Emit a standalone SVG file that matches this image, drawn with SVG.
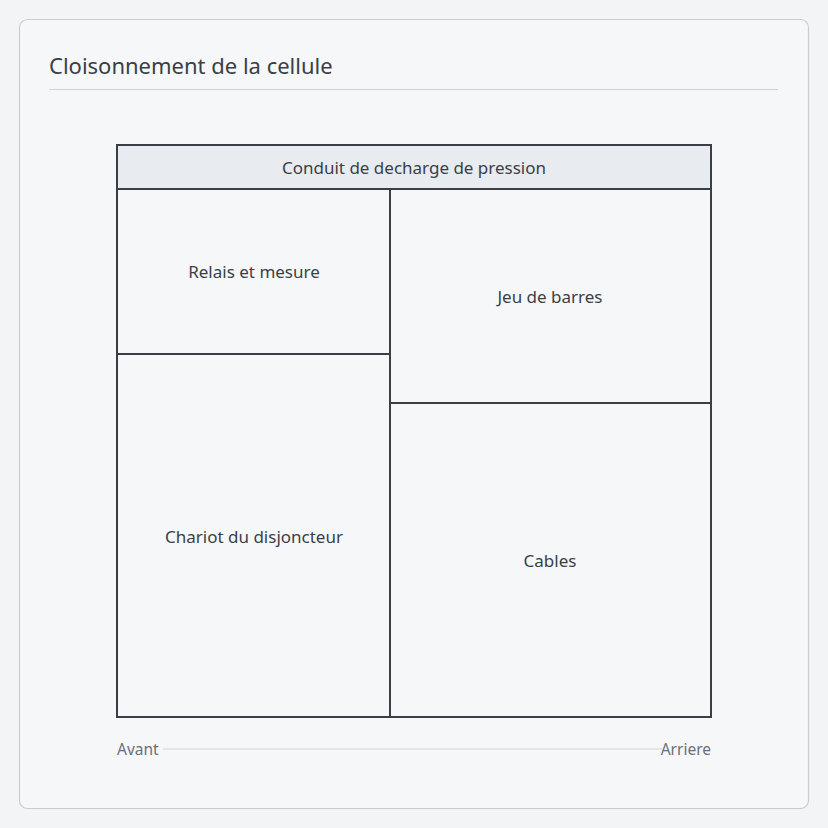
<svg xmlns="http://www.w3.org/2000/svg" width="828" height="828" viewBox="0 0 828 828">
<style>
.t{font-family:"Noto Sans","Open Sans","Liberation Sans",sans-serif;fill:#3a3f47;font-size:17px;text-anchor:middle;dominant-baseline:central}
.ax{font-family:"Noto Sans","Open Sans","Liberation Sans",sans-serif;fill:#6b7078;font-size:15.5px;dominant-baseline:central}
.box{fill:none;stroke:#3a3f47;stroke-width:2}
</style>
<rect x="0" y="0" width="828" height="828" fill="#f3f4f6"/>
<rect x="19.5" y="19.5" width="789" height="789" rx="8" fill="#f6f7f9" stroke="#c9cdd3" stroke-width="1.2"/>
<text x="49" y="65" font-family="Noto Sans,Open Sans,Liberation Sans,sans-serif" font-size="22" fill="#3a3f47" dominant-baseline="central">Cloisonnement de la cellule</text>
<line x1="49" y1="89.5" x2="778" y2="89.5" stroke="#cfd2d8" stroke-width="1.2"/>
<g id="conduit">
<rect x="117" y="145" width="594" height="44" fill="#e8ebef" stroke="#3a3f47" stroke-width="2"/>
<text class="t" x="414" y="167">Conduit de decharge de pression</text>
</g>
<g id="relais">
<rect class="box" x="117" y="189" width="273" height="165"/>
<text class="t" x="254" y="271">Relais et mesure</text>
</g>
<g id="chariot">
<rect class="box" x="117" y="354" width="273" height="363"/>
<text class="t" x="254" y="536">Chariot du disjoncteur</text>
</g>
<g id="jeu">
<rect class="box" x="390" y="189" width="321" height="214"/>
<text class="t" x="550" y="296">Jeu de barres</text>
</g>
<g id="cables">
<rect class="box" x="390" y="403" width="321" height="314"/>
<text class="t" x="550" y="560">Cables</text>
</g>
<g id="connectors">
<line x1="163" y1="749" x2="662" y2="749" stroke="#cfd2d8" stroke-width="1.2"/>
</g>
<text class="ax" x="117" y="749">Avant</text>
<text class="ax" x="711" y="749" text-anchor="end">Arriere</text>
</svg>
